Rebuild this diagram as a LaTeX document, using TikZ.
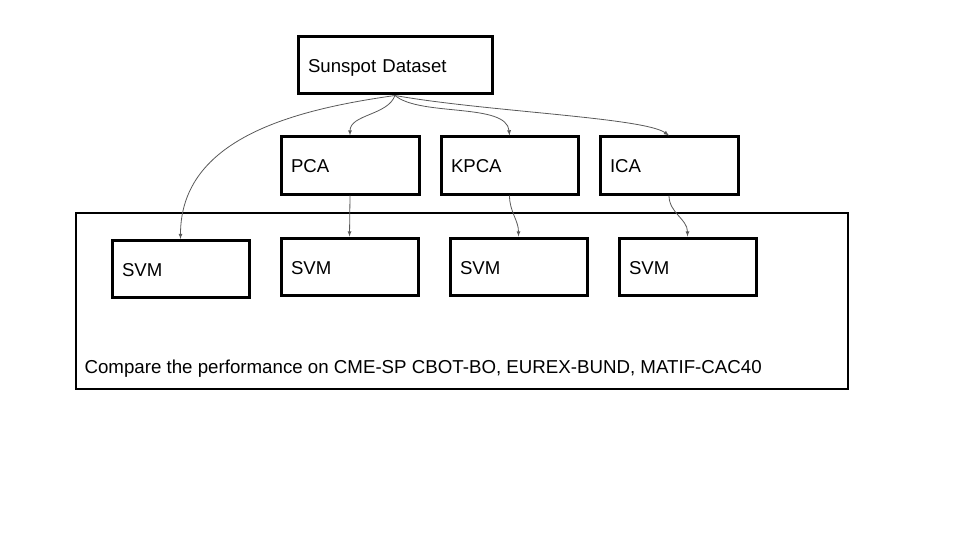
\documentclass[tikz,border=0pt]{standalone}
\usepackage{fontspec}
\setmainfont{Liberation Sans}
\tikzset{
  blk/.style={draw,line width=3pt,minimum height=57pt,inner xsep=10pt,
              text width=#1,align=left,text height=15pt,text depth=0pt,
              font=\fontsize{18.6}{22}\selectfont},
  conn/.style={->,draw=black!65,line width=0.8pt},
}
\begin{document}
\begin{tikzpicture}[>=latex,x=1pt,y=-1pt]
\useasboundingbox (0,0) rectangle (960,540);
% Rahmen um die Klassifikatoren
\draw[line width=1.8pt] (76,213) rectangle (848,389);
\node[anchor=west,font=\fontsize{18.7}{22}\selectfont] (cmp) at (81,368.5)
  {Compare the performance on CME-SP CBOT-BO, EUREX-BUND, MATIF-CAC40};
% Datensatz und Merkmalsextraktion
\node[blk=174pt] (sun)  at (395,65.5)  {Sunspot Dataset};
\node[blk=118pt] (pca)  at (350,165.5) {PCA};
\node[blk=117pt] (kpca) at (509.5,165.5) {KPCA};
\node[blk=118pt] (ica)  at (669,165.5) {ICA};
% Klassifikatoren
\node[blk=117pt] (svma) at (180.5,269)   {SVM};
\node[blk=117pt] (svmb) at (349.5,266.5) {SVM};
\node[blk=117pt] (svmc) at (518.5,266.5) {SVM};
\node[blk=117pt] (svmd) at (687.5,266.5) {SVM};
% Verbindungen
\draw[conn] (sun.south) to[out=188,in=90] (svma.north);
\draw[conn] (sun.south) to[out=-110,in=90,looseness=0.9] (pca.north);
\draw[conn] (sun.south) to[out=-40,in=95,looseness=0.7] (kpca.north);
\draw[conn] (sun.south) .. controls ([xshift=90pt,yshift=-16pt]sun.south)
  and ([xshift=-25pt,yshift=18pt]ica.north) .. (ica.north);
\draw[conn] (pca.south) -- (svmb.north);
\draw[conn] (kpca.south) to[out=-90,in=90] (svmc.north);
\draw[conn] (ica.south) to[out=-90,in=90] (svmd.north);
\end{tikzpicture}
\end{document}
